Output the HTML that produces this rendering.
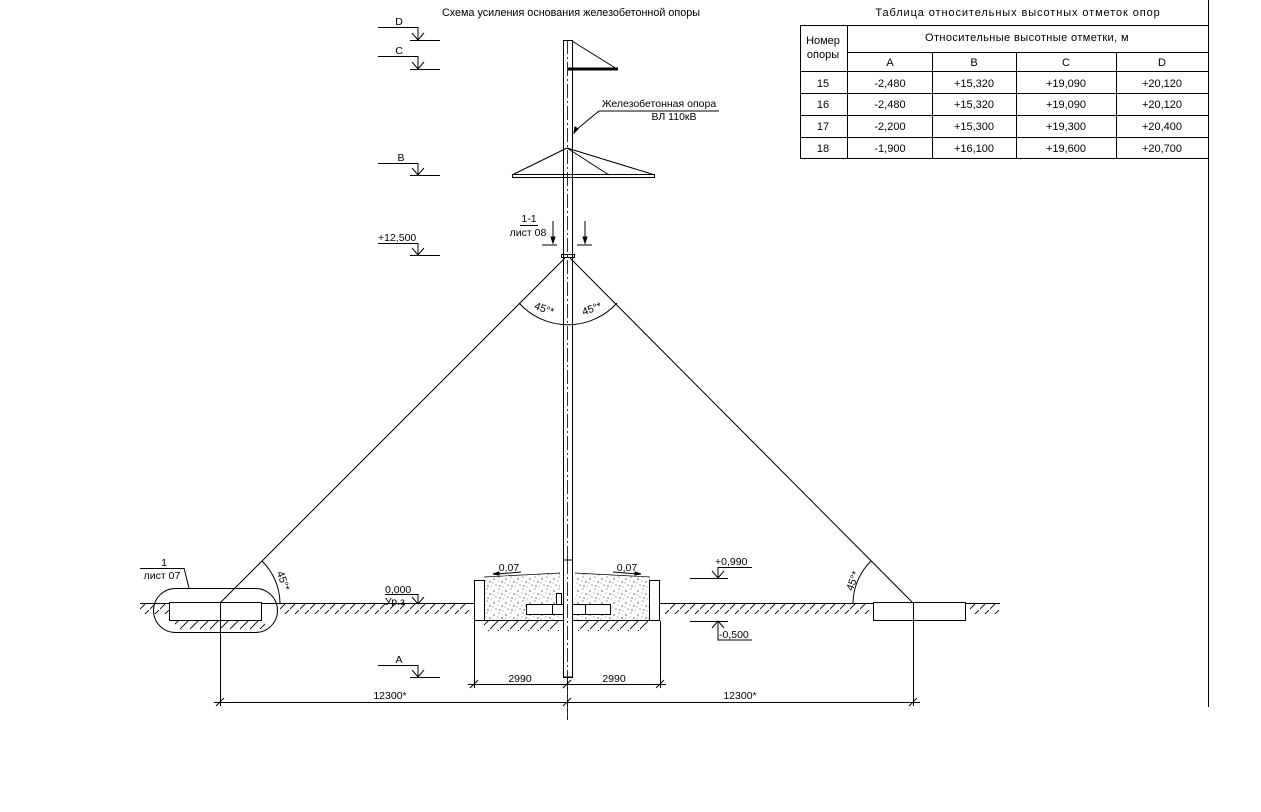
<!DOCTYPE html>
<html><head><meta charset="utf-8"><style>
html,body{margin:0;padding:0;background:#fff;}
svg{display:block;font-family:"Liberation Sans",sans-serif;}
</style></head><body>
<svg width="1261" height="812" viewBox="0 0 1261 812" xmlns="http://www.w3.org/2000/svg">
<defs>
<pattern id="hat" width="10" height="10" patternUnits="userSpaceOnUse"><line x1="-1" y1="10" x2="9" y2="0" stroke="#000" stroke-width="0.9"/></pattern>
<pattern id="sand" width="12" height="12" patternUnits="userSpaceOnUse">
<circle cx="2" cy="3" r="0.6" fill="#000"/><circle cx="7" cy="1" r="0.5" fill="#000"/><circle cx="10" cy="6" r="0.6" fill="#000"/><circle cx="4" cy="9" r="0.5" fill="#000"/><circle cx="8" cy="10" r="0.6" fill="#000"/><circle cx="1" cy="7" r="0.4" fill="#000"/><circle cx="6" cy="5" r="0.4" fill="#000"/><circle cx="11" cy="11" r="0.4" fill="#000"/></pattern>
</defs>
<g stroke="#000" stroke-width="1" fill="none">
<line x1="1208.5" y1="0" x2="1208.5" y2="707"/>
<rect x="800.5" y="25.5" width="408" height="133"/>
<line x1="847.5" y1="25" x2="847.5" y2="158"/>
<line x1="847" y1="52.5" x2="1208" y2="52.5"/>
<line x1="800" y1="71.5" x2="1208" y2="71.5"/>
<line x1="800" y1="93.5" x2="1208" y2="93.5"/>
<line x1="800" y1="115.5" x2="1208" y2="115.5"/>
<line x1="800" y1="137.5" x2="1208" y2="137.5"/>
<line x1="932.5" y1="52" x2="932.5" y2="158"/>
<line x1="1016.5" y1="52" x2="1016.5" y2="158"/>
<line x1="1116.5" y1="52" x2="1116.5" y2="158"/>

<rect x="563.5" y="40.5" width="9" height="637"/>
<line x1="567.5" y1="40" x2="567.5" y2="720" stroke-dasharray="14,3,2,3" stroke-width="0.8"/>
<line x1="572" y1="41" x2="617" y2="69"/>
<line x1="568" y1="69" x2="618" y2="69" stroke-width="3"/>
<rect x="512.5" y="174.5" width="142" height="3"/>
<line x1="567" y1="148" x2="512" y2="175"/>
<line x1="567" y1="148" x2="655" y2="175"/>
<line x1="567" y1="148" x2="609" y2="175"/>
<line x1="576" y1="130" x2="599" y2="111"/>
<path d="M574 133 l1 -6 l3 2z" fill="#000"/>
<line x1="599" y1="111" x2="719" y2="111"/>
<rect x="561.5" y="254.5" width="13" height="3"/>
<line x1="542" y1="245" x2="557" y2="245"/><line x1="553" y1="221" x2="553" y2="242"/><path d="M551 237 l2 6 l2 -6z" fill="#000"/>
<line x1="577" y1="245" x2="592" y2="245"/><line x1="585" y1="221" x2="585" y2="242"/><path d="M583 237 l2 6 l2 -6z" fill="#000"/>
<line x1="520" y1="225.5" x2="538" y2="225.5"/>
<line x1="565" y1="258" x2="220" y2="603"/>
<line x1="570" y1="258" x2="913" y2="603"/>
<path d="M519 303 A66 66 0 0 0 617 303"/>
<path d="M262 561 A60 60 0 0 1 280 603"/>
<path d="M871 561 A60 60 0 0 0 853 603"/>
<line x1="140" y1="603.5" x2="474" y2="603.5"/>
<line x1="660" y1="603.5" x2="1000" y2="603.5"/>
<rect x="140" y="604" width="30" height="10" fill="url(#hat)" stroke="none"/>
<rect x="175" y="620" width="90" height="10" fill="url(#hat)" stroke="none"/>
<rect x="280" y="604" width="190" height="10" fill="url(#hat)" stroke="none"/>
<rect x="484" y="621" width="75" height="10" fill="url(#hat)" stroke="none"/>
<rect x="578" y="621" width="70" height="10" fill="url(#hat)" stroke="none"/>
<rect x="665" y="604" width="205" height="10" fill="url(#hat)" stroke="none"/>
<rect x="970" y="604" width="30" height="10" fill="url(#hat)" stroke="none"/>
<rect x="153.5" y="588.5" width="124" height="44" rx="22"/>
<rect x="169.5" y="602.5" width="92" height="18" fill="#fff"/>
<line x1="220.5" y1="603" x2="220.5" y2="706"/>
<line x1="140" y1="568.5" x2="184" y2="568.5"/><line x1="184" y1="568" x2="189" y2="588"/>
<rect x="873.5" y="602.5" width="92" height="18" fill="#fff"/>
<line x1="913.5" y1="603" x2="913.5" y2="706"/>
<path d="M484 577 L560 573 L560 621 L484 621 Z" fill="url(#sand)" stroke="none"/>
<path d="M575 573 L650 577 L650 621 L575 621 Z" fill="url(#sand)" stroke="none"/>
<line x1="484" y1="577" x2="560" y2="573" stroke-width="0.7"/>
<line x1="575" y1="573" x2="650" y2="577" stroke-width="0.7"/>
<rect x="474.5" y="580.5" width="10" height="40"/>
<rect x="649.5" y="580.5" width="10" height="40"/>
<line x1="484" y1="620.5" x2="650" y2="620.5"/>
<rect x="526.5" y="604.5" width="84" height="10" fill="#fff"/>
<line x1="552.5" y1="604" x2="552.5" y2="614"/><line x1="585.5" y1="604" x2="585.5" y2="614"/>
<rect x="556.5" y="593.5" width="5" height="11" fill="#fff"/>
<rect x="563.5" y="560" width="9" height="117" fill="#fff"/>
<line x1="567.5" y1="560" x2="567.5" y2="720" stroke-dasharray="14,3,2,3" stroke-width="0.8"/>
<line x1="497" y1="574" x2="521" y2="572"/><path d="M493 574 l6 -2 l0 3z" fill="#000"/>
<line x1="613" y1="572" x2="637" y2="574"/><path d="M641 574 l-6 -2 l0 3z" fill="#000"/>
<line x1="474.5" y1="621" x2="474.5" y2="688"/><line x1="660.5" y1="621" x2="660.5" y2="688"/>
<line x1="468" y1="684.5" x2="666" y2="684.5"/>
<line x1="470" y1="688" x2="478" y2="680"/><line x1="563" y1="688" x2="571" y2="680"/><line x1="656" y1="688" x2="664" y2="680"/>
<line x1="214" y1="702.5" x2="920" y2="702.5"/>
<line x1="216" y1="706" x2="224" y2="698"/><line x1="563" y1="706" x2="571" y2="698"/><line x1="909" y1="706" x2="917" y2="698"/>
<g>
<polyline points="378,27.5 418,27.5 418,40"/><line x1="410" y1="40.5" x2="440" y2="40.5"/><polyline points="412,33 418,40 424,33"/>
<polyline points="378,56.5 418,56.5 418,69"/><line x1="410" y1="69.5" x2="440" y2="69.5"/><polyline points="412,62 418,69 424,62"/>
<polyline points="378,163.5 418,163.5 418,175"/><line x1="410" y1="175.5" x2="440" y2="175.5"/><polyline points="412,168 418,175 424,168"/>
<polyline points="378,243.5 418,243.5 418,255"/><line x1="410" y1="255.5" x2="440" y2="255.5"/><polyline points="412,248 418,255 424,248"/>
<polyline points="385,594.5 418,594.5 418,604"/><polyline points="412,597 418,604 424,597"/>
<polyline points="378,665.5 418,665.5 418,677"/><line x1="410" y1="677.5" x2="440" y2="677.5"/><polyline points="412,670 418,677 424,670"/>
<polyline points="752,567.5 718,567.5 718,578"/><line x1="690" y1="578.5" x2="728" y2="578.5"/><polyline points="712,571 718,578 724,571"/>
<line x1="690" y1="621.5" x2="728" y2="621.5"/><polyline points="718,621 718,640 752,640"/><polyline points="712,628 718,621 724,628"/>
</g>
</g>
<g font-size="10.5" fill="#000">
<text x="571" y="16" text-anchor="middle" font-size="10.8">Схема усиления основания железобетонной опоры</text>
<text x="1018" y="16" text-anchor="middle" font-size="11" letter-spacing="0.9">Таблица относительных высотных отметок опор</text>
<g font-size="11">
<text x="823" y="44" text-anchor="middle">Номер</text><text x="823" y="58" text-anchor="middle">опоры</text>
<text x="1027" y="41" text-anchor="middle" letter-spacing="0.4">Относительные высотные отметки, м</text>
<text x="890" y="66" text-anchor="middle">A</text><text x="974" y="66" text-anchor="middle">B</text><text x="1066" y="66" text-anchor="middle">C</text><text x="1162" y="66" text-anchor="middle">D</text>
<text x="823" y="87" text-anchor="middle">15</text><text x="890" y="87" text-anchor="middle">-2,480</text><text x="974" y="87" text-anchor="middle">+15,320</text><text x="1066" y="87" text-anchor="middle">+19,090</text><text x="1162" y="87" text-anchor="middle">+20,120</text>
<text x="823" y="108" text-anchor="middle">16</text><text x="890" y="108" text-anchor="middle">-2,480</text><text x="974" y="108" text-anchor="middle">+15,320</text><text x="1066" y="108" text-anchor="middle">+19,090</text><text x="1162" y="108" text-anchor="middle">+20,120</text>
<text x="823" y="130" text-anchor="middle">17</text><text x="890" y="130" text-anchor="middle">-2,200</text><text x="974" y="130" text-anchor="middle">+15,300</text><text x="1066" y="130" text-anchor="middle">+19,300</text><text x="1162" y="130" text-anchor="middle">+20,400</text>
<text x="823" y="152" text-anchor="middle">18</text><text x="890" y="152" text-anchor="middle">-1,900</text><text x="974" y="152" text-anchor="middle">+16,100</text><text x="1066" y="152" text-anchor="middle">+19,600</text><text x="1162" y="152" text-anchor="middle">+20,700</text>
</g>
<text x="399" y="25" text-anchor="middle">D</text>
<text x="399" y="54" text-anchor="middle">C</text>
<text x="401" y="161" text-anchor="middle">B</text>
<text x="378" y="241">+12,500</text>
<text x="385" y="593">0,000</text>
<text x="385" y="605">Ур.з</text>
<text x="399" y="663" text-anchor="middle">A</text>
<text x="715" y="565">+0,990</text>
<text x="719" y="638">-0,500</text>
<text x="659" y="107" text-anchor="middle">Железобетонная опора</text>
<text x="674" y="120" text-anchor="middle">ВЛ 110кВ</text>
<text x="529" y="222" text-anchor="middle">1-1</text>
<text x="528" y="236" text-anchor="middle">лист 08</text>
<text x="164" y="566" text-anchor="middle">1</text>
<text x="162" y="579" text-anchor="middle">лист 07</text>
<text x="509" y="571" text-anchor="middle">0,07</text>
<text x="627" y="571" text-anchor="middle">0,07</text>
<text x="520" y="682" text-anchor="middle">2990</text>
<text x="614" y="682" text-anchor="middle">2990</text>
<text x="390" y="699" text-anchor="middle">12300*</text>
<text x="740" y="699" text-anchor="middle">12300*</text>
<text x="543" y="312" text-anchor="middle" transform="rotate(20 543 312)">45°*</text>
<text x="593" y="312" text-anchor="middle" transform="rotate(-20 593 312)">45°*</text>
<text x="280" y="582" text-anchor="middle" transform="rotate(70 280 582)">45°*</text>
<text x="856" y="582" text-anchor="middle" transform="rotate(-70 856 582)">45°*</text>
</g>
</svg>
</body></html>
